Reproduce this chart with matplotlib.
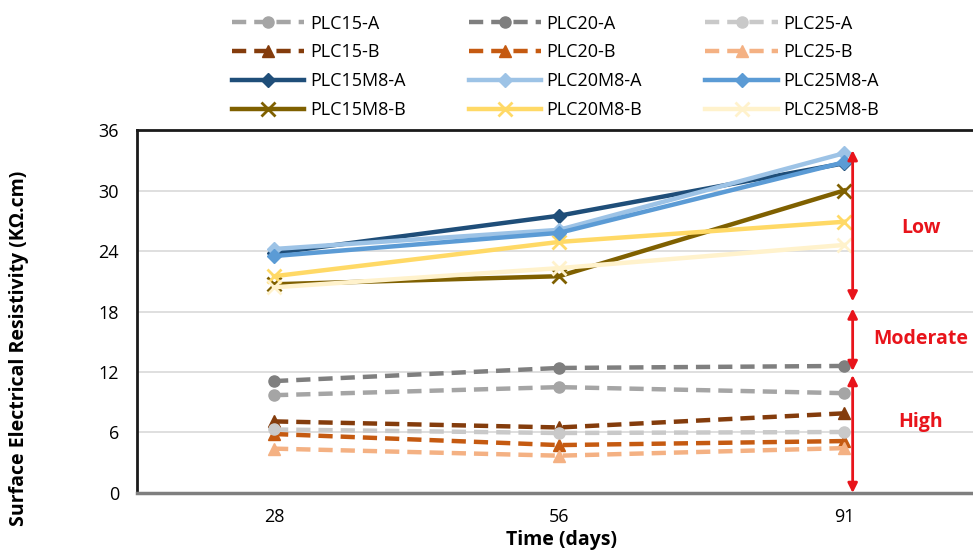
import matplotlib.pyplot as plt
import numpy as np

# Data
days = ['28', '56', '91']

plc15_a = [9.7, 10.5, 9.9]
plc20_a = [11.1, 12.4, 12.6]
plc25_a = [6.3, 5.95, 6.05]
plc15_b = [7.1, 6.5, 7.9]
plc20_b = [5.85, 4.75, 5.15]
plc25_b = [4.4, 3.7, 4.45]
plc15m8_a = [23.8, 27.5, 32.7]
plc20m8_a = [24.2, 26.1, 33.7]
plc25m8_a = [23.5, 25.8, 32.8]
plc15m8_b = [20.7, 21.5, 30.0]
plc20m8_b = [21.5, 24.9, 26.9]
plc25m8_b = [20.4, 22.3, 24.6]

# zones: (label, top, bottom, label y)
zones = [('Low', 34.0, 19.0, 26.3),
         ('Moderate', 18.3, 12.1, 15.3),
         ('High', 11.7, 0.0, 7.0)]

plt.rcParams['font.family'] = ['Open Sans', 'DejaVu Sans']

fig = plt.figure(figsize=(9.73, 5.58), dpi=100)
ax = fig.add_axes([0.141, 0.1165, 0.873, 0.6505])

x = np.arange(len(days))

# (label, values, color, marker, dashed)
series = [
    ('PLC15-A', plc15_a, '#a5a5a5', 'o', True),
    ('PLC15-B', plc15_b, '#843c0c', '^', True),
    ('PLC15M8-A', plc15m8_a, '#1f4e79', 'D', False),
    ('PLC15M8-B', plc15m8_b, '#7f6000', 'x', False),
    ('PLC20-A', plc20_a, '#7f7f7f', 'o', True),
    ('PLC20-B', plc20_b, '#c55a11', '^', True),
    ('PLC20M8-A', plc20m8_a, '#9dc3e6', 'D', False),
    ('PLC20M8-B', plc20m8_b, '#ffd966', 'x', False),
    ('PLC25-A', plc25_a, '#c9c9c9', 'o', True),
    ('PLC25-B', plc25_b, '#f4b183', '^', True),
    ('PLC25M8-A', plc25m8_a, '#5b9bd5', 'D', False),
    ('PLC25M8-B', plc25m8_b, '#fff2cc', 'x', False),
]

handles = []
for label, vals, color, marker, dashed in series:
    if dashed:
        ls = (0, (3.2, 1.8))
        ms = 8 if marker == 'o' else 9
    else:
        ls = '-'
        ms = 7 if marker == 'D' else 10
    h, = ax.plot(x, vals, color=color, lw=3.2, linestyle=ls, marker=marker,
                 markersize=ms, markeredgewidth=2 if marker == 'x' else 1,
                 markeredgecolor=color, label=label, zorder=3)
    handles.append(h)

# resistivity zone arrows
for name, top, bottom, ty in zones:
    ax.annotate('', xy=(2.03, bottom), xytext=(2.03, top),
                arrowprops=dict(arrowstyle='<|-|>', color='#e8141b', lw=2,
                                mutation_scale=14, shrinkA=0, shrinkB=0),
                zorder=5)
    ax.text(2.27, ty, name, color='#e8141b', fontsize=14, fontweight='bold',
            ha='center', va='center', zorder=5)

ax.set_xlim(-0.48, 2.5)
ax.set_ylim(0, 36)
ax.set_xticks(x)
ax.set_xticklabels(days)
ax.set_yticks(np.arange(0, 37, 6))
ax.tick_params(axis='both', labelsize=13, length=0)
ax.tick_params(axis='y', pad=13)
ax.tick_params(axis='x', pad=11)
ax.grid(axis='y', color='#d9d9d9', lw=1.2)
ax.set_axisbelow(True)

for side in ['top', 'left']:
    ax.spines[side].set_color('#1a1a1a')
    ax.spines[side].set_linewidth(2)
ax.spines['bottom'].set_color('#7f7f7f')
ax.spines['bottom'].set_linewidth(2.5)
ax.spines['right'].set_visible(False)

ax.set_xlabel('Time (days)', fontsize=14, fontweight='bold', labelpad=3)
fig.text(19 / 973, 1 - 348 / 558, 'Surface Electrical Resistivity (K\u03a9.cm)',
         rotation=90, ha='center', va='center', fontsize=14,
         fontweight='bold')

fig.legend(handles=handles, ncol=3, loc='upper left',
           bbox_to_anchor=(0.222, 1.003), frameon=False, fontsize=13,
           handlelength=4.0, handletextpad=0.3, columnspacing=3.5,
           labelspacing=0.6)

fig.savefig('out.png', dpi=100)
